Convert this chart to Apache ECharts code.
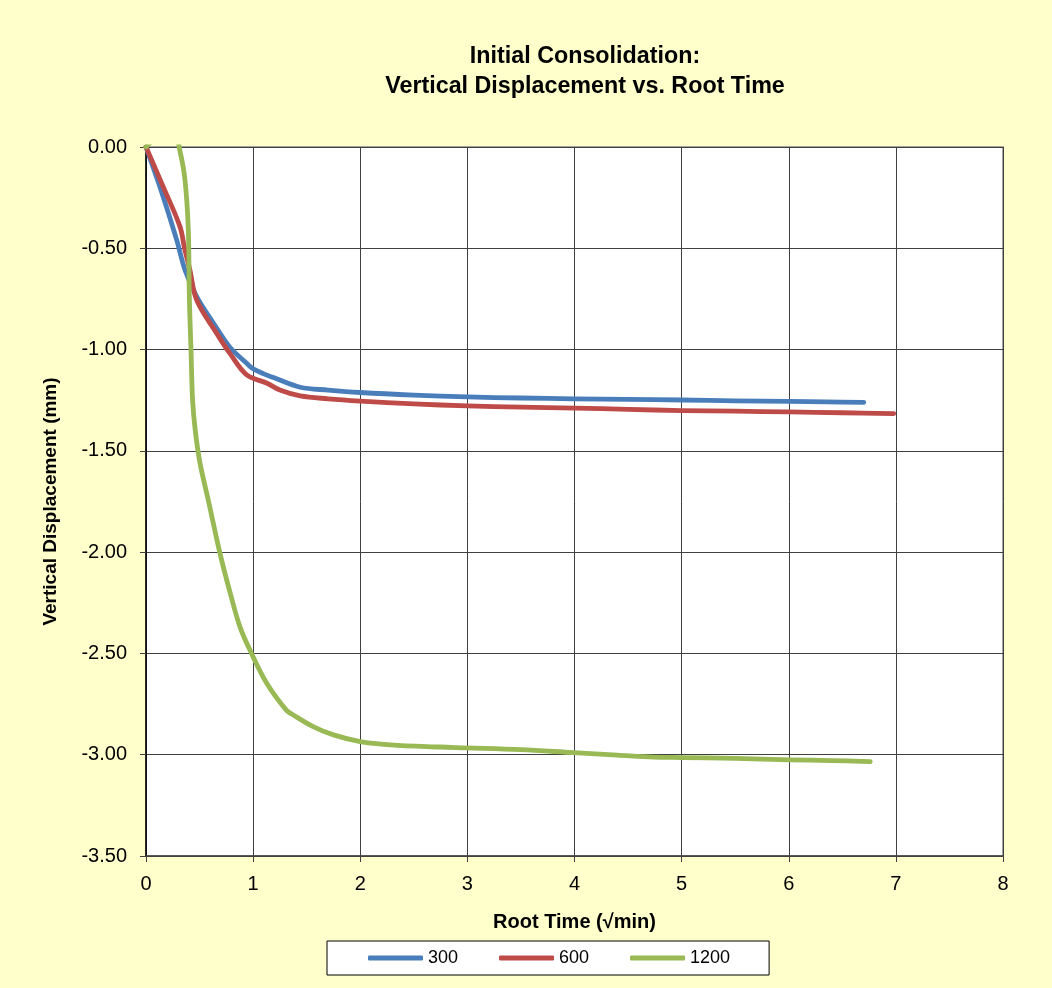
<!DOCTYPE html>
<html>
<head>
<meta charset="utf-8">
<title>Initial Consolidation</title>
<script src="https://cdn.jsdelivr.net/npm/echarts@6/dist/echarts.min.js"></script>
<style>
  html, body { margin: 0; padding: 0; background: #FFFFCC; }
  #chart { width: 1052px; height: 988px; }
</style>
</head>
<body>
<div id="chart"></div>
<script>
// Root time (sqrt(min)) and vertical displacement (mm) for each load stage
const rootTime300 = [0, 0.16, 0.287, 0.364, 0.473, 0.63, 0.785, 0.94, 1.0, 1.1, 1.19, 1.44, 1.7, 2.0, 2.5, 3.0, 3.5, 4.0, 4.5, 5.0, 5.5, 6.0, 6.35, 6.70];
const disp300     = [0, -0.245, -0.46, -0.607, -0.739, -0.87, -0.99, -1.068, -1.095, -1.12, -1.138, -1.186, -1.200, -1.212, -1.225, -1.234, -1.239, -1.243, -1.246, -1.249, -1.253, -1.256, -1.258, -1.261];

const rootTime600 = [0, 0.16, 0.317, 0.36, 0.41, 0.473, 0.66, 0.785, 0.94, 1.13, 1.25, 1.44, 1.7, 2.0, 2.5, 3.0, 3.5, 4.0, 4.5, 5.0, 5.5, 6.0, 6.5, 6.98];
const disp600     = [0, -0.196, -0.393, -0.5, -0.607, -0.755, -0.92, -1.02, -1.125, -1.166, -1.2, -1.229, -1.243, -1.254, -1.268, -1.278, -1.284, -1.289, -1.295, -1.301, -1.304, -1.308, -1.312, -1.316];

// the earliest 1200 readings sit slightly above zero and fall outside the plot
const rootTime1200 = [0, 0.08, 0.28, 0.317, 0.364, 0.395, 0.405, 0.42, 0.435, 0.46, 0.504, 0.58, 0.69, 0.785, 0.878, 0.985, 1.127, 1.31, 1.375, 1.56, 1.75, 2.0, 2.28, 2.745, 2.99, 3.5, 3.99, 4.4, 4.74, 5.0, 5.5, 6.0, 6.4, 6.76];
const disp1200     = [0, 0.03, 0.03, -0.02, -0.163, -0.41, -0.75, -1.0, -1.25, -1.40, -1.56, -1.74, -2.005, -2.2, -2.37, -2.50, -2.647, -2.78, -2.804, -2.861, -2.902, -2.935, -2.951, -2.962, -2.966, -2.975, -2.99, -3.002, -3.012, -3.014, -3.018, -3.025, -3.029, -3.034];

const seriesNames = ['300', '600', '1200'];
const seriesColors = ['#4A7EBB', '#BE4B48', '#98B954'];

const xTicks = { min: 0, max: 8, interval: 1 };
const yTicks = { min: -3.5, max: 0, interval: 0.5 };

function pairs(xs, ys) {
  return xs.map((x, i) => [x, ys[i]]);
}

const FONT = "'Liberation Sans', Arial, sans-serif";

const chart = echarts.init(document.getElementById('chart'), null, { renderer: 'canvas' });

const lineSeries = [
  pairs(rootTime300, disp300),
  pairs(rootTime600, disp600),
  pairs(rootTime1200, disp1200)
].map((data, i) => ({
  name: seriesNames[i],
  type: 'line',
  data: data,
  showSymbol: false,
  symbol: 'none',
  smooth: 0.35,
  clip: true,
  lineStyle: { color: seriesColors[i], width: 4.8, cap: 'round', join: 'round' },
  itemStyle: { color: seriesColors[i] },
  z: 3 + i
}));

chart.setOption({
  backgroundColor: '#FFFFCC',
  animation: false,
  title: {
    text: 'Initial Consolidation:\nVertical Displacement vs. Root Time',
    left: 580,
    top: 37,
    textAlign: 'center',
    textStyle: {
      fontFamily: FONT,
      fontSize: 23.3,
      fontWeight: 'bold',
      lineHeight: 30,
      color: '#000'
    }
  },
  grid: {
    left: 146,
    right: 49,
    top: 147,
    bottom: 132,
    show: true,
    backgroundColor: '#FFFFFF',
    borderColor: '#868686',
    borderWidth: 1.5
  },
  legend: {
    data: seriesNames,
    left: 327,
    top: 941,
    orient: 'horizontal',
    icon: 'roundRect',
    itemWidth: 55,
    itemHeight: 5,
    itemGap: 41,
    padding: [8, 39, 8, 41],
    backgroundColor: '#FFFFFF',
    borderColor: '#000000',
    borderWidth: 1,
    textStyle: { fontFamily: FONT, fontSize: 18, color: '#000' }
  },
  xAxis: {
    type: 'value',
    min: xTicks.min,
    max: xTicks.max,
    interval: xTicks.interval,
    name: 'Root Time (\u221Amin)',
    nameLocation: 'middle',
    nameGap: 56,
    nameTextStyle: { fontFamily: FONT, fontSize: 20, fontWeight: 'bold', color: '#000' },
    axisLine: { show: true, onZero: false, lineStyle: { color: '#404040', width: 1.5 } },
    axisTick: { show: true, inside: false, length: 6, lineStyle: { color: '#404040' } },
    axisLabel: { fontFamily: FONT, fontSize: 20, color: '#000', margin: 18 },
    splitLine: { show: true, lineStyle: { color: '#404040', width: 1 } }
  },
  yAxis: {
    type: 'value',
    min: yTicks.min,
    max: yTicks.max,
    interval: yTicks.interval,
    name: 'Vertical Displacement (mm)',
    nameLocation: 'middle',
    nameGap: 86,
    nameRotate: 90,
    nameTextStyle: { fontFamily: FONT, fontSize: 19, fontWeight: 'bold', color: '#000' },
    axisLine: { show: true, onZero: false, lineStyle: { color: '#000', width: 1.5 } },
    axisTick: { show: true, inside: false, length: 6, lineStyle: { color: '#404040' } },
    axisLabel: {
      fontFamily: FONT, fontSize: 20, color: '#000', margin: 19,
      formatter: v => v.toFixed(2)
    },
    splitLine: { show: true, lineStyle: { color: '#404040', width: 1 } }
  },
  series: lineSeries
});
</script>
</body>
</html>
